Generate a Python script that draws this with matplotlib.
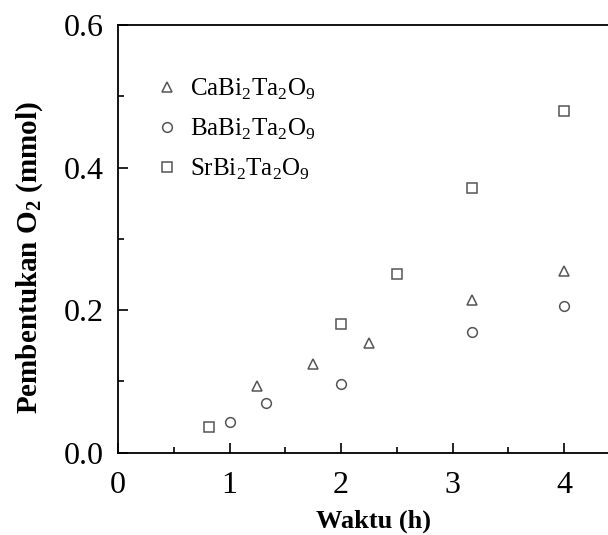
import matplotlib.pyplot as plt
from matplotlib.ticker import MultipleLocator

plt.rcParams['font.family'] = ['Liberation Serif', 'DejaVu Serif']
plt.rcParams['mathtext.fontset'] = 'custom'
plt.rcParams['mathtext.rm'] = 'Liberation Serif'
plt.rcParams['mathtext.bf'] = 'Liberation Serif:bold'

# data
x_ca = [1.25, 1.75, 2.25, 3.17, 4.0]
y_ca = [0.093, 0.124, 0.154, 0.214, 0.255]
x_ba = [1.0, 1.33, 2.0, 3.17, 4.0]
y_ba = [0.043, 0.070, 0.096, 0.169, 0.206]
x_sr = [0.82, 2.0, 2.5, 3.17, 4.0]
y_sr = [0.036, 0.181, 0.250, 0.372, 0.479]
labels = ['CaBi$_2$Ta$_2$O$_9$', 'BaBi$_2$Ta$_2$O$_9$', 'SrBi$_2$Ta$_2$O$_9$']

fig = plt.figure(figsize=(6.08, 5.35), dpi=100)
ax = fig.add_axes([118/608, (535-452.7)/535, (620-118)/608, (452.7-25)/535])

mk = dict(linestyle='none', markerfacecolor='none', markeredgecolor='#555555',
          markeredgewidth=1.1, markersize=7)
ax.plot(x_ca, y_ca, marker='^', label=labels[0], **mk)
ax.plot(x_ba, y_ba, marker='o', label=labels[1], **mk)
ax.plot(x_sr, y_sr, marker='s', label=labels[2], **mk)

ax.set_xlim(0, 4.5)
ax.set_ylim(0, 0.6)
ax.xaxis.set_major_locator(MultipleLocator(1))
ax.xaxis.set_minor_locator(MultipleLocator(0.5))
ax.yaxis.set_major_locator(MultipleLocator(0.2))
ax.yaxis.set_minor_locator(MultipleLocator(0.1))
ax.yaxis.set_major_formatter(plt.FuncFormatter(lambda v, p: f'{v:.1f}'))
ax.tick_params(which='both', direction='in', labelsize=23, width=1.2)
ax.tick_params(which='major', length=7)
ax.tick_params(which='minor', length=4)
ax.tick_params(axis='x', pad=13)
ax.tick_params(axis='y', pad=10)
for s in ax.spines.values():
    s.set_linewidth(1.3)

ax.set_xlabel('Waktu (h)', fontsize=19, fontweight='bold', va='top')
ax.xaxis.set_label_coords(0.508, -0.134)
ax.set_ylabel('Pembentukan O$_\\mathbf{2}$ (mmol)', fontsize=21, fontweight='bold',
              va='center', ha='center')
ax.yaxis.set_label_coords(-0.175, 0.4575)

ax.legend(loc='upper left', bbox_to_anchor=(0.073, 0.880), frameon=False, fontsize=18,
          handlelength=1.0, handletextpad=0.4, labelspacing=0.6, borderaxespad=0,
          borderpad=0, markerscale=1.0)

fig.savefig('out.png', dpi=100)
